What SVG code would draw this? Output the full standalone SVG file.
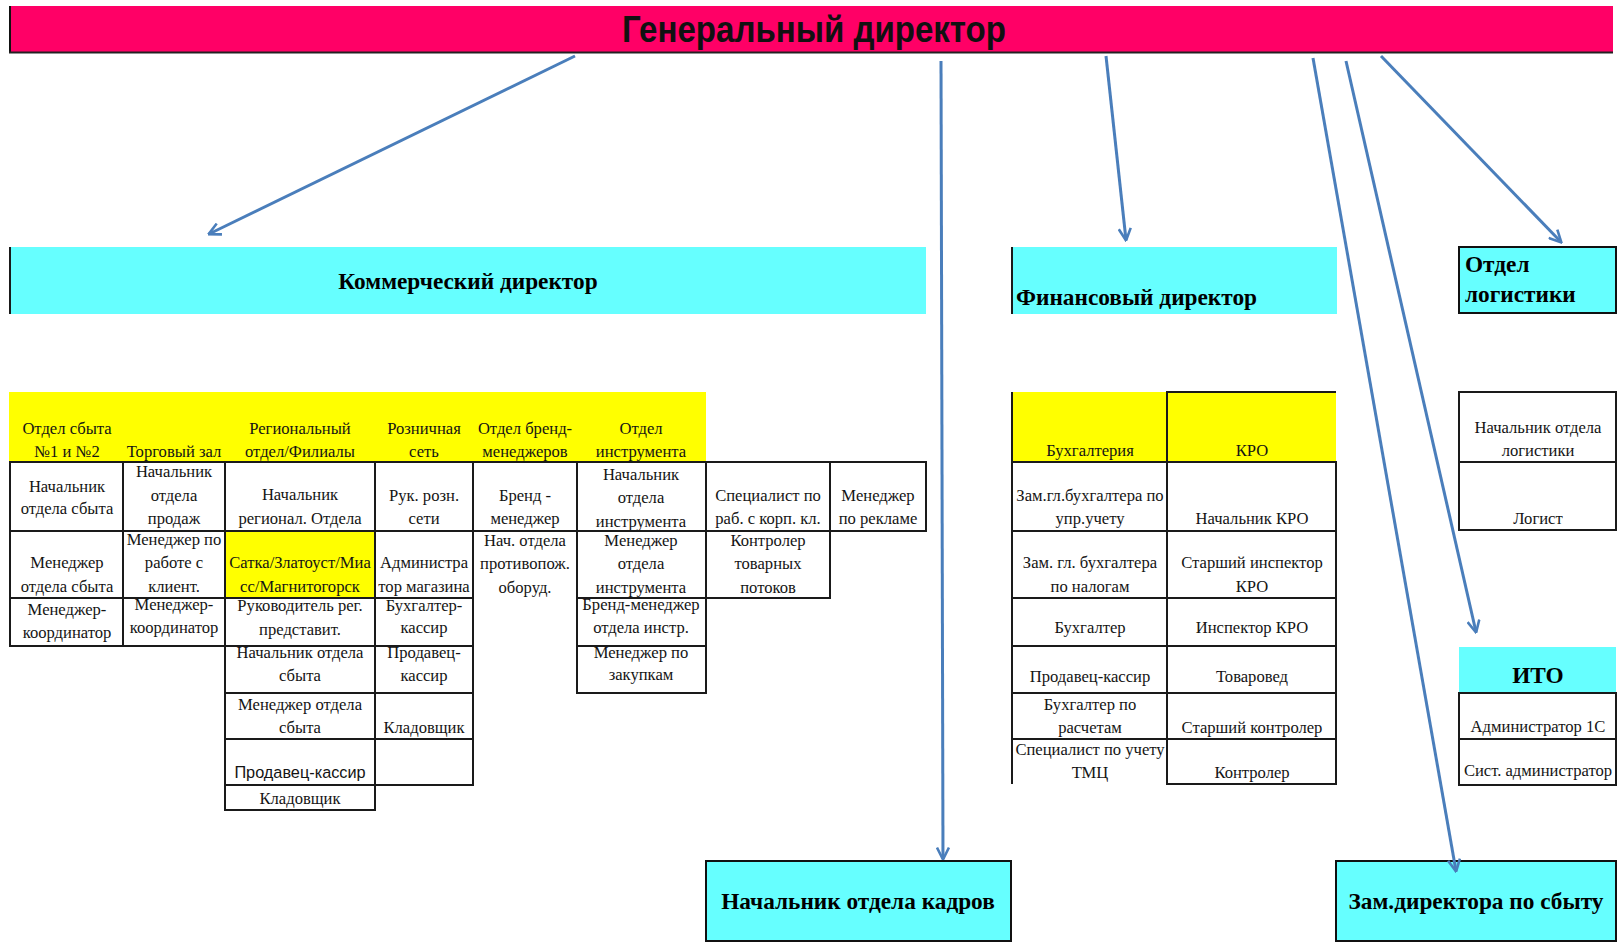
<svg xmlns="http://www.w3.org/2000/svg" width="1618" height="945" viewBox="0 0 1618 945">
<style>
.t{font-family:"Liberation Serif","Times New Roman",serif;font-size:16.6px;text-anchor:middle;fill:#141414}
.s{font-family:"Liberation Sans",Arial,sans-serif;font-size:16.3px;text-anchor:middle;fill:#141414}
.h{font-family:"Liberation Serif","Times New Roman",serif;font-size:23.3px;font-weight:bold;fill:#000}
.c{fill:#fff;stroke:#1a1a1a;stroke-width:2}
.yc{fill:#ffff00;stroke:#1a1a1a;stroke-width:2}
.y{fill:#ffff00}
.cy{fill:#66ffff}
.cyb{fill:#66ffff;stroke:#111;stroke-width:2}
.ln{stroke:#1a1a1a;stroke-width:2;fill:none}
.conn{stroke:#4a7ebb;stroke-width:3;fill:none;marker-end:url(#ah)}
</style>
<defs>
<marker id="ah" viewBox="0 0 14 14" refX="12.5" refY="7" markerWidth="14" markerHeight="14" markerUnits="userSpaceOnUse" orient="auto">
<path d="M1,1 L13,7 L1,13" fill="none" stroke="#4a7ebb" stroke-width="2.6"/>
</marker>
</defs>
<rect width="1618" height="945" fill="#fff"/>

<g id="gen-director">
<rect x="9" y="6" width="1604" height="47" fill="#ff0066"/>
<line x1="10" y1="6" x2="10" y2="53" stroke="#111" stroke-width="2"/>
<line x1="9" y1="52.5" x2="1613" y2="52.5" stroke="#222" stroke-width="2"/>
<text x="814" y="42" font-family="Liberation Sans, Arial, sans-serif" font-weight="bold" font-size="37" text-anchor="middle" textLength="384" lengthAdjust="spacingAndGlyphs" fill="#111">Генеральный директор</text>
</g>

<g id="commercial-director">
<rect x="9" y="247" width="917" height="67" class="cy"/>
<line x1="10" y1="247" x2="10" y2="314" class="ln"/>
<text x="468" y="289" class="h" text-anchor="middle">Коммерческий директор</text>
</g>

<g id="finance-director">
<rect x="1011" y="247" width="326" height="67" class="cy"/>
<line x1="1012" y1="247" x2="1012" y2="314" class="ln"/>
<text x="1016" y="305" class="h">Финансовый директор</text>
</g>

<g id="logistics-dept">
<rect x="1459" y="247" width="157" height="66" class="cyb"/>
<text x="1465" y="272" class="h" font-size="24.5">Отдел</text>
<text x="1465" y="302" class="h" font-size="24.5">логистики</text>
</g>

<g id="hr-head">
<rect x="706" y="861" width="305" height="80" class="cyb"/>
<text x="858" y="909" class="h" text-anchor="middle">Начальник отдела кадров</text>
</g>

<g id="deputy-sales">
<rect x="1336" y="861" width="280" height="80" class="cyb"/>
<text x="1476" y="909" class="h" text-anchor="middle">Зам.директора по сбыту</text>
</g>

<!-- Commercial table -->
<g id="com-header">
<rect x="9" y="392" width="697" height="70" class="y"/>
<text x="67" y="434" class="t">Отдел сбыта</text>
<text x="67" y="457" class="t">№1 и №2</text>
<text x="174" y="457" class="t">Торговый зал</text>
<text x="300" y="434" class="t">Региональный</text>
<text x="300" y="457" class="t">отдел/Филиалы</text>
<text x="424" y="434" class="t">Розничная</text>
<text x="424" y="457" class="t">сеть</text>
<text x="525" y="434" class="t">Отдел бренд-</text>
<text x="525" y="457" class="t">менеджеров</text>
<text x="641" y="434" class="t">Отдел</text>
<text x="641" y="457" class="t">инструмента</text>
</g>

<g id="sales-col">
<rect x="10" y="462" width="113" height="69" class="c"/>
<text x="67" y="492" class="t">Начальник</text>
<text x="67" y="514" class="t">отдела сбыта</text>
<rect x="10" y="531" width="113" height="67" class="c"/>
<text x="67" y="568" class="t">Менеджер</text>
<text x="67" y="592" class="t">отдела сбыта</text>
<rect x="10" y="598" width="113" height="48" class="c"/>
<text x="67" y="615" class="t">Менеджер-</text>
<text x="67" y="638" class="t">координатор</text>
</g>

<g id="hall-col">
<rect x="123" y="462" width="102" height="69" class="c"/>
<text x="174" y="477" class="t">Начальник</text>
<text x="174" y="501" class="t">отдела</text>
<text x="174" y="524" class="t">продаж</text>
<rect x="123" y="531" width="102" height="67" class="c"/>
<text x="174" y="545" class="t">Менеджер по</text>
<text x="174" y="568" class="t">работе с</text>
<text x="174" y="592" class="t">клиент.</text>
<rect x="123" y="598" width="102" height="48" class="c"/>
<text x="174" y="610" class="t">Менеджер-</text>
<text x="174" y="633" class="t">координатор</text>
</g>

<g id="regional-col">
<rect x="225" y="462" width="150" height="69" class="c"/>
<text x="300" y="500" class="t">Начальник</text>
<text x="300" y="524" class="t">регионал. Отдела</text>
<rect x="225" y="531" width="150" height="67" class="yc"/>
<text x="300" y="568" class="t">Сатка/Златоуст/Миа</text>
<text x="300" y="592" class="t">сс/Магнитогорск</text>
<rect x="225" y="598" width="150" height="48" class="c"/>
<text x="300" y="611" class="t">Руководитель рег.</text>
<text x="300" y="635" class="t">представит.</text>
<rect x="225" y="646" width="150" height="47" class="c"/>
<text x="300" y="658" class="t">Начальник отдела</text>
<text x="300" y="681" class="t">сбыта</text>
<rect x="225" y="693" width="150" height="46" class="c"/>
<text x="300" y="710" class="t">Менеджер отдела</text>
<text x="300" y="733" class="t">сбыта</text>
<rect x="225" y="739" width="150" height="46" class="c"/>
<text x="300" y="778" class="s">Продавец-кассир</text>
<rect x="225" y="785" width="150" height="25" class="c"/>
<text x="300" y="804" class="t">Кладовщик</text>
</g>

<g id="retail-col">
<rect x="375" y="462" width="98" height="69" class="c"/>
<text x="424" y="501" class="t">Рук. розн.</text>
<text x="424" y="524" class="t">сети</text>
<rect x="375" y="531" width="98" height="67" class="c"/>
<text x="424" y="568" class="t">Администра</text>
<text x="424" y="592" class="t">тор магазина</text>
<rect x="375" y="598" width="98" height="48" class="c"/>
<text x="424" y="611" class="t">Бухгалтер-</text>
<text x="424" y="633" class="t">кассир</text>
<rect x="375" y="646" width="98" height="47" class="c"/>
<text x="424" y="658" class="t">Продавец-</text>
<text x="424" y="681" class="t">кассир</text>
<rect x="375" y="693" width="98" height="46" class="c"/>
<text x="424" y="733" class="t">Кладовщик</text>
<rect x="375" y="739" width="98" height="46" class="c"/>
</g>

<g id="brand-col">
<rect x="473" y="462" width="104" height="69" class="c"/>
<text x="525" y="501" class="t">Бренд -</text>
<text x="525" y="524" class="t">менеджер</text>
<text x="525" y="546" class="t">Нач. отдела</text>
<text x="525" y="569" class="t">противопож.</text>
<text x="525" y="593" class="t">оборуд.</text>
</g>

<g id="tools-col">
<rect x="577" y="462" width="129" height="69" class="c"/>
<text x="641" y="480" class="t">Начальник</text>
<text x="641" y="503" class="t">отдела</text>
<text x="641" y="527" class="t">инструмента</text>
<rect x="577" y="531" width="129" height="67" class="c"/>
<text x="641" y="546" class="t">Менеджер</text>
<text x="641" y="569" class="t">отдела</text>
<text x="641" y="593" class="t">инструмента</text>
<rect x="577" y="598" width="129" height="48" class="c"/>
<text x="641" y="610" class="t">Бренд-менеджер</text>
<text x="641" y="633" class="t">отдела инстр.</text>
<rect x="577" y="646" width="129" height="47" class="c"/>
<text x="641" y="658" class="t">Менеджер по</text>
<text x="641" y="680" class="t">закупкам</text>
</g>

<g id="corp-col">
<rect x="706" y="462" width="124" height="69" class="c"/>
<text x="768" y="501" class="t">Специалист по</text>
<text x="768" y="524" class="t">раб. с корп. кл.</text>
<rect x="706" y="531" width="124" height="67" class="c"/>
<text x="768" y="546" class="t">Контролер</text>
<text x="768" y="569" class="t">товарных</text>
<text x="768" y="593" class="t">потоков</text>
</g>

<g id="ads-col">
<rect x="830" y="462" width="96" height="69" class="c"/>
<text x="878" y="501" class="t">Менеджер</text>
<text x="878" y="524" class="t">по рекламе</text>
</g>

<!-- Finance table -->
<g id="accounting-col">
<rect x="1012" y="392" width="324" height="70" class="y"/>
<path d="M1012,392 V784" class="ln"/>
<path d="M1167,462 V392 H1336" class="ln"/>
<text x="1090" y="456" class="t">Бухгалтерия</text>
<rect x="1012" y="462" width="155" height="69" class="c"/>
<text x="1090" y="501" class="t">Зам.гл.бухгалтера по</text>
<text x="1090" y="524" class="t">упр.учету</text>
<rect x="1012" y="531" width="155" height="67" class="c"/>
<text x="1090" y="568" class="t">Зам. гл. бухгалтера</text>
<text x="1090" y="592" class="t">по налогам</text>
<rect x="1012" y="598" width="155" height="48" class="c"/>
<text x="1090" y="633" class="t">Бухгалтер</text>
<rect x="1012" y="646" width="155" height="47" class="c"/>
<text x="1090" y="682" class="t">Продавец-кассир</text>
<rect x="1012" y="693" width="155" height="46" class="c"/>
<text x="1090" y="710" class="t">Бухгалтер по</text>
<text x="1090" y="733" class="t">расчетам</text>
<path d="M1012,784 V739 H1167" class="ln"/>
<text x="1090" y="755" class="t">Специалист по учету</text>
<text x="1090" y="778" class="t">ТМЦ</text>
</g>

<g id="kro-col">
<text x="1252" y="456" class="t">КРО</text>
<rect x="1167" y="462" width="169" height="69" class="c"/>
<text x="1252" y="524" class="t">Начальник КРО</text>
<rect x="1167" y="531" width="169" height="67" class="c"/>
<text x="1252" y="568" class="t">Старший инспектор</text>
<text x="1252" y="592" class="t">КРО</text>
<rect x="1167" y="598" width="169" height="48" class="c"/>
<text x="1252" y="633" class="t">Инспектор КРО</text>
<rect x="1167" y="646" width="169" height="47" class="c"/>
<text x="1252" y="682" class="t">Товаровед</text>
<rect x="1167" y="693" width="169" height="46" class="c"/>
<text x="1252" y="733" class="t">Старший контролер</text>
<rect x="1167" y="739" width="169" height="45" class="c"/>
<text x="1252" y="778" class="t">Контролер</text>
</g>

<g id="logistics-table">
<rect x="1459" y="392" width="157" height="70" class="c"/>
<text x="1538" y="433" class="t">Начальник отдела</text>
<text x="1538" y="456" class="t">логистики</text>
<rect x="1459" y="462" width="157" height="68" class="c"/>
<text x="1538" y="524" class="t">Логист</text>
</g>

<g id="ito">
<rect x="1459" y="647" width="157" height="46" class="cy"/>
<text x="1538" y="683" class="h" font-size="26" text-anchor="middle">ИТО</text>
<rect x="1459" y="693" width="157" height="46" class="c"/>
<text x="1538" y="732" class="t">Администратор 1С</text>
<rect x="1459" y="739" width="157" height="46" class="c"/>
<text x="1538" y="776" class="t">Сист. администратор</text>
</g>

<g id="connectors">
<path d="M575,56 L209,234" class="conn"/>
<path d="M941,61 L943,859" class="conn"/>
<path d="M1106,56 L1126,240" class="conn"/>
<path d="M1313,58 L1456,871" class="conn"/>
<path d="M1346,61 L1476,632" class="conn"/>
<path d="M1381,56 L1561,242" class="conn"/>
</g>
</svg>
